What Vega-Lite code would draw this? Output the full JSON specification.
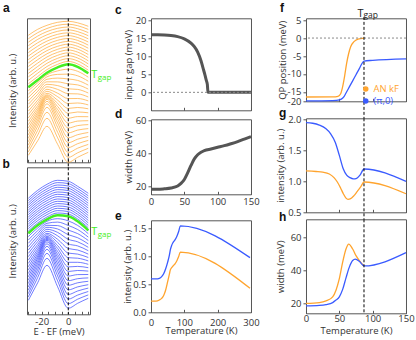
{
"$schema":"https://vega.github.io/schema/vega-lite/v6.json",
"padding":{"left":2,"top":1.3,"right":0,"bottom":0},
"config":{
 "font":"Open Sans",
 "view":{"stroke":"#555","strokeWidth":1},
 "axis":{"grid":false,"domain":false,"labelFontSize":9.5,"titleFontSize":9.5,"titleFontWeight":"normal","labelColor":"#333","titleColor":"#333","tickColor":"#555","tickSize":3,"labelPadding":2,"titlePadding":2,"labelFont":"Open Sans","titleFont":"Open Sans","labelFlush":false,"labelOverlap":false},
 "title":{"anchor":"start","frame":"group","fontSize":12,"fontWeight":"bold","font":"Liberation Sans","color":"#111","baseline":"alphabetic"},
 "line":{"interpolate":"monotone"}
},
"datasets":{
"fermi":[{"e":0}],
"tg":[{"T":87}],
"zero":[{"v":0}],
"sa":[
{"k":0,"e":-30,"v":7},{"k":0,"e":-23,"v":21.5},{"k":0,"e":-16,"v":36},{"k":0,"e":-8,"v":18},{"k":0,"e":0,"v":0},{"k":0,"e":7,"v":5},{"k":0,"e":15,"v":10},
{"k":1,"e":-30,"v":10.4},{"k":1,"e":-23,"v":27.2},{"k":1,"e":-16,"v":44},{"k":1,"e":-8,"v":24.5},{"k":1,"e":0,"v":4.9},{"k":1,"e":7,"v":9.5},{"k":1,"e":15,"v":14},
{"k":2,"e":-30,"v":13.8},{"k":2,"e":-23,"v":31.9},{"k":2,"e":-16,"v":50},{"k":2,"e":-8,"v":30},{"k":2,"e":0,"v":9.8},{"k":2,"e":7,"v":14.1},{"k":2,"e":15,"v":17.9},
{"k":3,"e":-30,"v":17.2},{"k":3,"e":-23,"v":36.1},{"k":3,"e":-16,"v":55},{"k":3,"e":-8,"v":35},{"k":3,"e":0,"v":14.7},{"k":3,"e":7,"v":18.6},{"k":3,"e":15,"v":21.9},
{"k":4,"e":-30,"v":20.6},{"k":4,"e":-23,"v":39.6},{"k":4,"e":-16,"v":58.5},{"k":4,"e":-8,"v":39.3},{"k":4,"e":0,"v":19.6},{"k":4,"e":7,"v":23.1},{"k":4,"e":15,"v":25.8},
{"k":5,"e":-30,"v":24},{"k":5,"e":-23,"v":42.5},{"k":5,"e":-16,"v":61},{"k":5,"e":-8,"v":43.1},{"k":5,"e":0,"v":24.5},{"k":5,"e":7,"v":27.6},{"k":5,"e":15,"v":29.8},
{"k":6,"e":-30,"v":27.4},{"k":6,"e":-23,"v":45.2},{"k":6,"e":-16,"v":63},{"k":6,"e":-8,"v":46.6},{"k":6,"e":0,"v":29.4},{"k":6,"e":7,"v":32.2},{"k":6,"e":15,"v":33.7},
{"k":7,"e":-30,"v":30.8},{"k":7,"e":-23,"v":47.7},{"k":7,"e":-16,"v":64.5},{"k":7,"e":-8,"v":49.8},{"k":7,"e":0,"v":34.3},{"k":7,"e":7,"v":36.7},{"k":7,"e":15,"v":37.7},
{"k":8,"e":-30,"v":34.2},{"k":8,"e":-23,"v":49.9},{"k":8,"e":-16,"v":65.5},{"k":8,"e":-8,"v":52.8},{"k":8,"e":0,"v":39.2},{"k":8,"e":7,"v":41.2},{"k":8,"e":15,"v":41.6},
{"k":9,"e":-30,"v":37.6},{"k":9,"e":-23,"v":52.1},{"k":9,"e":-16,"v":66.5},{"k":9,"e":-8,"v":55.8},{"k":9,"e":0,"v":44.1},{"k":9,"e":7,"v":45.7},{"k":9,"e":15,"v":45.6},
{"k":10,"e":-30,"v":41},{"k":10,"e":-23,"v":54.3},{"k":10,"e":-16,"v":67.5},{"k":10,"e":-8,"v":58.9},{"k":10,"e":0,"v":49},{"k":10,"e":7,"v":50.3},{"k":10,"e":15,"v":49.5},
{"k":11,"e":-30,"v":44.4},{"k":11,"e":-23,"v":56.7},{"k":11,"e":-16,"v":69},{"k":11,"e":-8,"v":62.1},{"k":11,"e":0,"v":53.9},{"k":11,"e":7,"v":54.8},{"k":11,"e":15,"v":53.5},
{"k":12,"e":-30,"v":47.8},{"k":12,"e":-23,"v":59.4},{"k":12,"e":-16,"v":71},{"k":12,"e":-8,"v":65.6},{"k":12,"e":0,"v":58.8},{"k":12,"e":7,"v":59.3},{"k":12,"e":15,"v":57.4},
{"k":13,"e":-30,"v":51.2},{"k":13,"e":-23,"v":62.1},{"k":13,"e":-16,"v":73},{"k":13,"e":-8,"v":69.1},{"k":13,"e":0,"v":63.7},{"k":13,"e":7,"v":63.8},{"k":13,"e":15,"v":61.4},
{"k":14,"e":-30,"v":54.6},{"k":14,"e":-23,"v":65.1},{"k":14,"e":-16,"v":75.5},{"k":14,"e":-8,"v":72.9},{"k":14,"e":0,"v":68.6},{"k":14,"e":7,"v":68.4},{"k":14,"e":15,"v":65.3},
{"k":15,"e":-30,"v":58},{"k":15,"e":-23,"v":68},{"k":15,"e":-16,"v":78},{"k":15,"e":-8,"v":76.7},{"k":15,"e":0,"v":73.5},{"k":15,"e":7,"v":72.9},{"k":15,"e":15,"v":69.3},
{"k":16,"e":-30,"v":61.4},{"k":16,"e":-23,"v":71},{"k":16,"e":-16,"v":80.5},{"k":16,"e":-8,"v":80.4},{"k":16,"e":0,"v":78.4},{"k":16,"e":7,"v":77.4},{"k":16,"e":15,"v":73.2},
{"k":17,"e":-30,"v":64.8},{"k":17,"e":-23,"v":73.9},{"k":17,"e":-16,"v":83},{"k":17,"e":-8,"v":84.2},{"k":17,"e":0,"v":83.3},{"k":17,"e":7,"v":81.9},{"k":17,"e":15,"v":77.2},
{"k":18,"e":-30,"v":68.2},{"k":18,"e":-23,"v":76.9},{"k":18,"e":-16,"v":85.5},{"k":18,"e":-8,"v":87.9},{"k":18,"e":0,"v":88.2},{"k":18,"e":7,"v":86.5},{"k":18,"e":15,"v":81.1},
{"k":19,"e":-30,"v":71.6},{"k":19,"e":-23,"v":79.6},{"k":19,"e":-16,"v":87.5},{"k":19,"e":-8,"v":91.4},{"k":19,"e":0,"v":93.1},{"k":19,"e":7,"v":91},{"k":19,"e":15,"v":85.1},
{"k":20,"e":-30,"v":75},{"k":20,"e":-23,"v":82.3},{"k":20,"e":-16,"v":89.5},{"k":20,"e":-8,"v":95},{"k":20,"e":0,"v":98},{"k":20,"e":7,"v":95.5},{"k":20,"e":15,"v":89},
{"k":21,"e":-30,"v":78.5},{"k":21,"e":-23,"v":85.7},{"k":21,"e":-16,"v":92.7},{"k":21,"e":-8,"v":98},{"k":21,"e":0,"v":100.9},{"k":21,"e":7,"v":98.4},{"k":21,"e":15,"v":92.1},
{"k":22,"e":-30,"v":81.9},{"k":22,"e":-23,"v":89.1},{"k":22,"e":-16,"v":95.8},{"k":22,"e":-8,"v":101},{"k":22,"e":0,"v":103.7},{"k":22,"e":7,"v":101.4},{"k":22,"e":15,"v":95.3},
{"k":23,"e":-30,"v":85.4},{"k":23,"e":-23,"v":92.4},{"k":23,"e":-16,"v":99},{"k":23,"e":-8,"v":104},{"k":23,"e":0,"v":106.6},{"k":23,"e":7,"v":104.3},{"k":23,"e":15,"v":98.4},
{"k":24,"e":-30,"v":88.9},{"k":24,"e":-23,"v":95.8},{"k":24,"e":-16,"v":102.2},{"k":24,"e":-8,"v":107},{"k":24,"e":0,"v":109.5},{"k":24,"e":7,"v":107.2},{"k":24,"e":15,"v":101.5},
{"k":25,"e":-30,"v":92.3},{"k":25,"e":-23,"v":99.2},{"k":25,"e":-16,"v":105.3},{"k":25,"e":-8,"v":110},{"k":25,"e":0,"v":112.3},{"k":25,"e":7,"v":110.2},{"k":25,"e":15,"v":104.7},
{"k":26,"e":-30,"v":95.8},{"k":26,"e":-23,"v":102.6},{"k":26,"e":-16,"v":108.5},{"k":26,"e":-8,"v":113},{"k":26,"e":0,"v":115.2},{"k":26,"e":7,"v":113.1},{"k":26,"e":15,"v":107.8},
{"k":27,"e":-30,"v":99.3},{"k":27,"e":-23,"v":106},{"k":27,"e":-16,"v":111.7},{"k":27,"e":-8,"v":116},{"k":27,"e":0,"v":118.1},{"k":27,"e":7,"v":116},{"k":27,"e":15,"v":110.9},
{"k":28,"e":-30,"v":102.7},{"k":28,"e":-23,"v":109.3},{"k":28,"e":-16,"v":114.8},{"k":28,"e":-8,"v":119},{"k":28,"e":0,"v":120.9},{"k":28,"e":7,"v":119},{"k":28,"e":15,"v":114.1},
{"k":29,"e":-30,"v":106.2},{"k":29,"e":-23,"v":112.7},{"k":29,"e":-16,"v":118},{"k":29,"e":-8,"v":122},{"k":29,"e":0,"v":123.8},{"k":29,"e":7,"v":121.9},{"k":29,"e":15,"v":117.2},
{"k":30,"e":-30,"v":109.7},{"k":30,"e":-23,"v":116.1},{"k":30,"e":-16,"v":121.2},{"k":30,"e":-8,"v":125},{"k":30,"e":0,"v":126.7},{"k":30,"e":7,"v":124.8},{"k":30,"e":15,"v":120.3},
{"k":31,"e":-30,"v":113.1},{"k":31,"e":-23,"v":119.5},{"k":31,"e":-16,"v":124.3},{"k":31,"e":-8,"v":128},{"k":31,"e":0,"v":129.5},{"k":31,"e":7,"v":127.8},{"k":31,"e":15,"v":123.5},
{"k":32,"e":-30,"v":116.6},{"k":32,"e":-23,"v":122.9},{"k":32,"e":-16,"v":127.5},{"k":32,"e":-8,"v":131},{"k":32,"e":0,"v":132.4},{"k":32,"e":7,"v":130.7},{"k":32,"e":15,"v":126.6},
{"k":33,"e":-30,"v":120.1},{"k":33,"e":-23,"v":126.2},{"k":33,"e":-16,"v":130.7},{"k":33,"e":-8,"v":134},{"k":33,"e":0,"v":135.3},{"k":33,"e":7,"v":133.6},{"k":33,"e":15,"v":129.7},
{"k":34,"e":-30,"v":123.5},{"k":34,"e":-23,"v":129.6},{"k":34,"e":-16,"v":133.8},{"k":34,"e":-8,"v":137},{"k":34,"e":0,"v":138.1},{"k":34,"e":7,"v":136.6},{"k":34,"e":15,"v":132.9},
{"k":35,"e":-30,"v":127},{"k":35,"e":-23,"v":133},{"k":35,"e":-16,"v":137},{"k":35,"e":-8,"v":140},{"k":35,"e":0,"v":141},{"k":35,"e":7,"v":139.5},{"k":35,"e":15,"v":136}
],
"sb":[
{"k":0,"e":-30,"v":14},{"k":0,"e":-23,"v":31.5},{"k":0,"e":-16,"v":49},{"k":0,"e":-8,"v":27.5},{"k":0,"e":0,"v":6},{"k":0,"e":7,"v":11},{"k":0,"e":15,"v":16},
{"k":1,"e":-30,"v":17.4},{"k":1,"e":-23,"v":36.7},{"k":1,"e":-16,"v":56},{"k":1,"e":-8,"v":33.4},{"k":1,"e":0,"v":10.6},{"k":1,"e":7,"v":15.1},{"k":1,"e":15,"v":19.4},
{"k":2,"e":-30,"v":20.7},{"k":2,"e":-23,"v":41},{"k":2,"e":-16,"v":61},{"k":2,"e":-8,"v":38.4},{"k":2,"e":0,"v":15.2},{"k":2,"e":7,"v":19.2},{"k":2,"e":15,"v":22.8},
{"k":3,"e":-30,"v":24.1},{"k":3,"e":-23,"v":44.7},{"k":3,"e":-16,"v":65},{"k":3,"e":-8,"v":42.8},{"k":3,"e":0,"v":19.8},{"k":3,"e":7,"v":23.3},{"k":3,"e":15,"v":26.2},
{"k":4,"e":-30,"v":27.4},{"k":4,"e":-23,"v":47.9},{"k":4,"e":-16,"v":68},{"k":4,"e":-8,"v":46.7},{"k":4,"e":0,"v":24.4},{"k":4,"e":7,"v":27.4},{"k":4,"e":15,"v":29.6},
{"k":5,"e":-30,"v":30.8},{"k":5,"e":-23,"v":50.9},{"k":5,"e":-16,"v":70.5},{"k":5,"e":-8,"v":50.4},{"k":5,"e":0,"v":29},{"k":5,"e":7,"v":31.5},{"k":5,"e":15,"v":33},
{"k":6,"e":-30,"v":34.1},{"k":6,"e":-23,"v":53.6},{"k":6,"e":-16,"v":72.5},{"k":6,"e":-8,"v":53.8},{"k":6,"e":0,"v":33.6},{"k":6,"e":7,"v":35.6},{"k":6,"e":15,"v":36.4},
{"k":7,"e":-30,"v":37.5},{"k":7,"e":-23,"v":56.1},{"k":7,"e":-16,"v":74},{"k":7,"e":-8,"v":57},{"k":7,"e":0,"v":38.2},{"k":7,"e":7,"v":39.7},{"k":7,"e":15,"v":39.8},
{"k":8,"e":-30,"v":40.8},{"k":8,"e":-23,"v":58.3},{"k":8,"e":-16,"v":75},{"k":8,"e":-8,"v":59.9},{"k":8,"e":0,"v":42.8},{"k":8,"e":7,"v":43.8},{"k":8,"e":15,"v":43.2},
{"k":9,"e":-30,"v":44.2},{"k":9,"e":-23,"v":60.5},{"k":9,"e":-16,"v":76},{"k":9,"e":-8,"v":62.8},{"k":9,"e":0,"v":47.4},{"k":9,"e":7,"v":47.9},{"k":9,"e":15,"v":46.6},
{"k":10,"e":-30,"v":47.5},{"k":10,"e":-23,"v":62.8},{"k":10,"e":-16,"v":77},{"k":10,"e":-8,"v":65.8},{"k":10,"e":0,"v":52},{"k":10,"e":7,"v":52},{"k":10,"e":15,"v":50},
{"k":11,"e":-30,"v":50.9},{"k":11,"e":-23,"v":65},{"k":11,"e":-16,"v":78},{"k":11,"e":-8,"v":68.7},{"k":11,"e":0,"v":56.6},{"k":11,"e":7,"v":56.1},{"k":11,"e":15,"v":53.4},
{"k":12,"e":-30,"v":54.2},{"k":12,"e":-23,"v":67.5},{"k":12,"e":-16,"v":79.5},{"k":12,"e":-8,"v":71.9},{"k":12,"e":0,"v":61.2},{"k":12,"e":7,"v":60.2},{"k":12,"e":15,"v":56.8},
{"k":13,"e":-30,"v":57.6},{"k":13,"e":-23,"v":69.9},{"k":13,"e":-16,"v":81},{"k":13,"e":-8,"v":75},{"k":13,"e":0,"v":65.8},{"k":13,"e":7,"v":64.3},{"k":13,"e":15,"v":60.2},
{"k":14,"e":-30,"v":60.9},{"k":14,"e":-23,"v":72.7},{"k":14,"e":-16,"v":83},{"k":14,"e":-8,"v":78.5},{"k":14,"e":0,"v":70.4},{"k":14,"e":7,"v":68.4},{"k":14,"e":15,"v":63.6},
{"k":15,"e":-30,"v":64.3},{"k":15,"e":-23,"v":75.4},{"k":15,"e":-16,"v":85},{"k":15,"e":-8,"v":81.9},{"k":15,"e":0,"v":75},{"k":15,"e":7,"v":72.5},{"k":15,"e":15,"v":67},
{"k":16,"e":-30,"v":67.6},{"k":16,"e":-23,"v":78.1},{"k":16,"e":-16,"v":87},{"k":16,"e":-8,"v":85.3},{"k":16,"e":0,"v":79.6},{"k":16,"e":7,"v":76.6},{"k":16,"e":15,"v":70.4},
{"k":17,"e":-30,"v":71},{"k":17,"e":-23,"v":80.8},{"k":17,"e":-16,"v":89},{"k":17,"e":-8,"v":88.7},{"k":17,"e":0,"v":84.2},{"k":17,"e":7,"v":80.7},{"k":17,"e":15,"v":73.8},
{"k":18,"e":-30,"v":74.3},{"k":18,"e":-23,"v":83.6},{"k":18,"e":-16,"v":91},{"k":18,"e":-8,"v":92.2},{"k":18,"e":0,"v":88.8},{"k":18,"e":7,"v":84.8},{"k":18,"e":15,"v":77.2},
{"k":19,"e":-30,"v":77.7},{"k":19,"e":-23,"v":86.3},{"k":19,"e":-16,"v":93},{"k":19,"e":-8,"v":95.6},{"k":19,"e":0,"v":93.4},{"k":19,"e":7,"v":88.9},{"k":19,"e":15,"v":80.6},
{"k":20,"e":-30,"v":81},{"k":20,"e":-23,"v":89},{"k":20,"e":-16,"v":95},{"k":20,"e":-8,"v":99},{"k":20,"e":0,"v":98},{"k":20,"e":7,"v":93},{"k":20,"e":15,"v":84},
{"k":21,"e":-30,"v":83.3},{"k":21,"e":-23,"v":91.3},{"k":21,"e":-16,"v":97.3},{"k":21,"e":-8,"v":101.3},{"k":21,"e":0,"v":100.3},{"k":21,"e":7,"v":95.3},{"k":21,"e":15,"v":86.5},
{"k":22,"e":-30,"v":85.7},{"k":22,"e":-23,"v":93.7},{"k":22,"e":-16,"v":99.7},{"k":22,"e":-8,"v":103.7},{"k":22,"e":0,"v":102.7},{"k":22,"e":7,"v":97.7},{"k":22,"e":15,"v":88.9},
{"k":23,"e":-30,"v":88},{"k":23,"e":-23,"v":96},{"k":23,"e":-16,"v":102},{"k":23,"e":-8,"v":106},{"k":23,"e":0,"v":105},{"k":23,"e":7,"v":100},{"k":23,"e":15,"v":91.4},
{"k":24,"e":-30,"v":90.3},{"k":24,"e":-23,"v":98.3},{"k":24,"e":-16,"v":104.3},{"k":24,"e":-8,"v":108.3},{"k":24,"e":0,"v":107.3},{"k":24,"e":7,"v":102.3},{"k":24,"e":15,"v":93.9},
{"k":25,"e":-30,"v":92.7},{"k":25,"e":-23,"v":100.7},{"k":25,"e":-16,"v":106.7},{"k":25,"e":-8,"v":110.7},{"k":25,"e":0,"v":109.7},{"k":25,"e":7,"v":104.7},{"k":25,"e":15,"v":96.3},
{"k":26,"e":-30,"v":95},{"k":26,"e":-23,"v":103},{"k":26,"e":-16,"v":109},{"k":26,"e":-8,"v":113},{"k":26,"e":0,"v":112},{"k":26,"e":7,"v":107},{"k":26,"e":15,"v":98.8},
{"k":27,"e":-30,"v":97.3},{"k":27,"e":-23,"v":105.3},{"k":27,"e":-16,"v":111.3},{"k":27,"e":-8,"v":115.3},{"k":27,"e":0,"v":114.3},{"k":27,"e":7,"v":109.3},{"k":27,"e":15,"v":101.3},
{"k":28,"e":-30,"v":99.7},{"k":28,"e":-23,"v":107.7},{"k":28,"e":-16,"v":113.7},{"k":28,"e":-8,"v":117.7},{"k":28,"e":0,"v":116.7},{"k":28,"e":7,"v":111.7},{"k":28,"e":15,"v":103.7},
{"k":29,"e":-30,"v":102},{"k":29,"e":-23,"v":110},{"k":29,"e":-16,"v":116},{"k":29,"e":-8,"v":120},{"k":29,"e":0,"v":119},{"k":29,"e":7,"v":114},{"k":29,"e":15,"v":106.2},
{"k":30,"e":-30,"v":104.3},{"k":30,"e":-23,"v":112.3},{"k":30,"e":-16,"v":118.3},{"k":30,"e":-8,"v":122.3},{"k":30,"e":0,"v":121.3},{"k":30,"e":7,"v":116.3},{"k":30,"e":15,"v":108.7},
{"k":31,"e":-30,"v":106.7},{"k":31,"e":-23,"v":114.7},{"k":31,"e":-16,"v":120.7},{"k":31,"e":-8,"v":124.7},{"k":31,"e":0,"v":123.7},{"k":31,"e":7,"v":118.7},{"k":31,"e":15,"v":111.1},
{"k":32,"e":-30,"v":109},{"k":32,"e":-23,"v":117},{"k":32,"e":-16,"v":123},{"k":32,"e":-8,"v":127},{"k":32,"e":0,"v":126},{"k":32,"e":7,"v":121},{"k":32,"e":15,"v":113.6},
{"k":33,"e":-30,"v":111.3},{"k":33,"e":-23,"v":119.3},{"k":33,"e":-16,"v":125.3},{"k":33,"e":-8,"v":129.3},{"k":33,"e":0,"v":128.3},{"k":33,"e":7,"v":123.3},{"k":33,"e":15,"v":116.1},
{"k":34,"e":-30,"v":113.7},{"k":34,"e":-23,"v":121.7},{"k":34,"e":-16,"v":127.7},{"k":34,"e":-8,"v":131.7},{"k":34,"e":0,"v":130.7},{"k":34,"e":7,"v":125.7},{"k":34,"e":15,"v":118.5},
{"k":35,"e":-30,"v":116},{"k":35,"e":-23,"v":124},{"k":35,"e":-16,"v":130},{"k":35,"e":-8,"v":134},{"k":35,"e":0,"v":133},{"k":35,"e":7,"v":128},{"k":35,"e":15,"v":121}
],
"c":[{"T":0,"v":16},{"T":10,"v":16},{"T":20,"v":15.95},{"T":30,"v":15.8},{"T":40,"v":15.5},{"T":50,"v":14.9},{"T":60,"v":13.7},{"T":65,"v":12.7},{"T":70,"v":11.2},{"T":75,"v":8.8},{"T":78,"v":6.8},{"T":81,"v":4.8},{"T":83,"v":3.3},{"T":84.5,"v":2.2},{"T":85.5,"v":0},{"T":150,"v":0}],
"d":[{"T":0,"v":18},{"T":10,"v":18},{"T":20,"v":18.3},{"T":30,"v":18.8},{"T":40,"v":20},{"T":45,"v":21.6},{"T":50,"v":24},{"T":55,"v":28},{"T":60,"v":32.5},{"T":65,"v":36.5},{"T":70,"v":39},{"T":75,"v":40.5},{"T":80,"v":41.5},{"T":90,"v":42.5},{"T":100,"v":43.5},{"T":110,"v":44.5},{"T":120,"v":45.7},{"T":130,"v":47},{"T":140,"v":48.5},{"T":150,"v":50}],
"e":[
{"s":"AN kF","T":0,"v":0.2},{"s":"AN kF","T":15,"v":0.2},{"s":"AN kF","T":25,"v":0.22},{"s":"AN kF","T":32,"v":0.25},{"s":"AN kF","T":38,"v":0.3},{"s":"AN kF","T":44,"v":0.4},{"s":"AN kF","T":50,"v":0.55},{"s":"AN kF","T":55,"v":0.68},{"s":"AN kF","T":58,"v":0.76},{"s":"AN kF","T":62,"v":0.8},{"s":"AN kF","T":66,"v":0.83},{"s":"AN kF","T":72,"v":0.87},{"s":"AN kF","T":78,"v":0.93},{"s":"AN kF","T":83,"v":1},{"s":"AN kF","T":88,"v":1.08},{"s":"AN kF","T":297,"v":0.43},
{"s":"(π,0)","T":0,"v":0.6},{"s":"(π,0)","T":15,"v":0.6},{"s":"(π,0)","T":25,"v":0.61},{"s":"(π,0)","T":32,"v":0.64},{"s":"(π,0)","T":38,"v":0.69},{"s":"(π,0)","T":44,"v":0.78},{"s":"(π,0)","T":50,"v":0.9},{"s":"(π,0)","T":55,"v":1.02},{"s":"(π,0)","T":58,"v":1.12},{"s":"(π,0)","T":62,"v":1.2},{"s":"(π,0)","T":66,"v":1.25},{"s":"(π,0)","T":72,"v":1.3},{"s":"(π,0)","T":78,"v":1.37},{"s":"(π,0)","T":83,"v":1.45},{"s":"(π,0)","T":88,"v":1.55},{"s":"(π,0)","T":297,"v":0.98}
],
"f":[
{"s":"AN kF","T":0,"v":-16.4},{"s":"AN kF","T":40,"v":-16.35},{"s":"AN kF","T":48,"v":-16.2},{"s":"AN kF","T":52,"v":-15.5},{"s":"AN kF","T":55,"v":-13.5},{"s":"AN kF","T":58,"v":-10.5},{"s":"AN kF","T":61,"v":-7},{"s":"AN kF","T":64,"v":-4.3},{"s":"AN kF","T":67,"v":-2.4},{"s":"AN kF","T":72,"v":-1},{"s":"AN kF","T":78,"v":-0.3},{"s":"AN kF","T":87,"v":0},
{"s":"(π,0)","T":0,"v":-17.5},{"s":"(π,0)","T":40,"v":-17.4},{"s":"(π,0)","T":45,"v":-17.35},{"s":"(π,0)","T":50,"v":-17.2},{"s":"(π,0)","T":53,"v":-17},{"s":"(π,0)","T":57,"v":-16.3},{"s":"(π,0)","T":60,"v":-15.3},{"s":"(π,0)","T":65,"v":-13.6},{"s":"(π,0)","T":70,"v":-11.9},{"s":"(π,0)","T":75,"v":-10.2},{"s":"(π,0)","T":80,"v":-8.5},{"s":"(π,0)","T":87,"v":-6.4},{"s":"(π,0)","T":100,"v":-6.2},{"s":"(π,0)","T":150,"v":-5.8}
],
"g":[
{"s":"AN kF","T":0,"v":1.17},{"s":"AN kF","T":15,"v":1.16},{"s":"AN kF","T":25,"v":1.15},{"s":"AN kF","T":35,"v":1.12},{"s":"AN kF","T":42,"v":1.06},{"s":"AN kF","T":47,"v":0.99},{"s":"AN kF","T":52,"v":0.89},{"s":"AN kF","T":56,"v":0.8},{"s":"AN kF","T":60,"v":0.73},{"s":"AN kF","T":63,"v":0.71},{"s":"AN kF","T":67,"v":0.72},{"s":"AN kF","T":72,"v":0.77},{"s":"AN kF","T":77,"v":0.84},{"s":"AN kF","T":82,"v":0.91},{"s":"AN kF","T":87,"v":0.99},{"s":"AN kF","T":150,"v":0.8},
{"s":"(π,0)","T":0,"v":1.95},{"s":"(π,0)","T":10,"v":1.94},{"s":"(π,0)","T":20,"v":1.91},{"s":"(π,0)","T":30,"v":1.85},{"s":"(π,0)","T":37,"v":1.77},{"s":"(π,0)","T":44,"v":1.63},{"s":"(π,0)","T":50,"v":1.42},{"s":"(π,0)","T":56,"v":1.2},{"s":"(π,0)","T":61,"v":1.1},{"s":"(π,0)","T":66,"v":1.06},{"s":"(π,0)","T":71,"v":1.04},{"s":"(π,0)","T":76,"v":1.05},{"s":"(π,0)","T":81,"v":1.1},{"s":"(π,0)","T":87,"v":1.2},{"s":"(π,0)","T":150,"v":1}
],
"h":[
{"s":"AN kF","T":0,"v":20},{"s":"AN kF","T":20,"v":20.5},{"s":"AN kF","T":30,"v":21.5},{"s":"AN kF","T":40,"v":24},{"s":"AN kF","T":45,"v":28},{"s":"AN kF","T":50,"v":35},{"s":"AN kF","T":55,"v":45},{"s":"AN kF","T":60,"v":53},{"s":"AN kF","T":64,"v":56},{"s":"AN kF","T":70,"v":53},{"s":"AN kF","T":75,"v":49},{"s":"AN kF","T":80,"v":46},{"s":"AN kF","T":87,"v":42.7},
{"s":"(π,0)","T":0,"v":18.5},{"s":"(π,0)","T":20,"v":18.8},{"s":"(π,0)","T":30,"v":19.3},{"s":"(π,0)","T":40,"v":20.5},{"s":"(π,0)","T":45,"v":22},{"s":"(π,0)","T":50,"v":24},{"s":"(π,0)","T":55,"v":28.5},{"s":"(π,0)","T":60,"v":35.5},{"s":"(π,0)","T":65,"v":42},{"s":"(π,0)","T":70,"v":46},{"s":"(π,0)","T":74,"v":46.8},{"s":"(π,0)","T":80,"v":45.5},{"s":"(π,0)","T":87,"v":42.7},{"s":"(π,0)","T":150,"v":50.8}
]
},
"hconcat":[
 {"vconcat":[
  {"width":63,"height":144,
   "title":{"text":"a","dx":-24,"offset":2.7},
   "resolve":{"axis":{"x":"independent","y":"independent"}},
   "layer":[
    {"data":{"name":"sa"},"mark":{"type":"line","interpolate":"monotone","strokeWidth":0.7,"color":"#ffa733"},
     "encoding":{
      "x":{"field":"e","type":"quantitative","scale":{"domain":[-31,16.3],"nice":false,"zero":false},"axis":{"values":[-30,-25,-20,-15,-10,-5,0,5,10,15],"labels":false,"title":null,"tickSize":-3}},
      "y":{"field":"v","type":"quantitative","scale":{"domain":[0,144],"nice":false},"axis":{"title":"Intensity (arb. u.)","labels":false,"ticks":false,"titlePadding":10}},
      "detail":{"field":"k","type":"nominal"}}},
    {"data":{"name":"sa"},"transform":[{"filter":"datum.k == 20"}],"mark":{"type":"line","interpolate":"monotone","strokeWidth":2.5,"color":"#44ee22"},
     "encoding":{"x":{"field":"e","type":"quantitative","axis":null},"y":{"field":"v","type":"quantitative","axis":null}}},
    {"data":{"name":"fermi"},"mark":{"type":"rule","strokeDash":[3,2],"color":"#000","strokeWidth":1},"encoding":{"x":{"field":"e","type":"quantitative","axis":null},"y":{"datum":144,"axis":null},"y2":{"datum":-5}}},
    {"data":{"name":"sa"},"transform":[{"filter":"datum.k == 20 && datum.e == 15"}],"mark":{"type":"text","text":"T","color":"#44ee22","align":"left","baseline":"middle","dx":3,"dy":2,"fontSize":11},"encoding":{"x":{"field":"e","type":"quantitative","axis":null},"y":{"field":"v","type":"quantitative","axis":null}}},
    {"data":{"name":"sa"},"transform":[{"filter":"datum.k == 20 && datum.e == 15"}],"mark":{"type":"text","text":"gap","color":"#44ee22","align":"left","baseline":"middle","dx":9.5,"dy":5,"fontSize":8},"encoding":{"x":{"field":"e","type":"quantitative","axis":null},"y":{"field":"v","type":"quantitative","axis":null}}}
   ]},
  {"width":63,"height":147,
   "title":{"text":"b","dx":-24.5,"offset":0,"dy":4.3},
   "resolve":{"axis":{"x":"independent","y":"independent"}},
   "layer":[
    {"data":{"name":"sb"},"mark":{"type":"line","interpolate":"monotone","strokeWidth":0.7,"color":"#3344ff"},
     "encoding":{
      "x":{"field":"e","type":"quantitative","scale":{"domain":[-31,16.3],"nice":false,"zero":false},"axis":{"values":[-30,-25,-20,-15,-10,-5,0,5,10,15],"labelExpr":"datum.value == -20 ? '-20' : datum.value == 0 ? '0' : ''","title":"E - EF (meV)","tickSize":-3,"labelPadding":5.1,"titlePadding":0.5}},
      "y":{"field":"v","type":"quantitative","scale":{"domain":[0,147],"nice":false},"axis":{"title":"Intensity (arb. u.)","labels":false,"ticks":false,"titlePadding":10}},
      "detail":{"field":"k","type":"nominal"}}},
    {"data":{"name":"sb"},"transform":[{"filter":"datum.k == 20"}],"mark":{"type":"line","interpolate":"monotone","strokeWidth":2.5,"color":"#44ee22"},
     "encoding":{"x":{"field":"e","type":"quantitative","axis":null},"y":{"field":"v","type":"quantitative","axis":null}}},
    {"data":{"name":"fermi"},"mark":{"type":"rule","strokeDash":[3,2],"color":"#000","strokeWidth":1},"encoding":{"x":{"field":"e","type":"quantitative","axis":null}}},
    {"data":{"name":"sb"},"transform":[{"filter":"datum.k == 20 && datum.e == 15"}],"mark":{"type":"text","text":"T","color":"#44ee22","align":"left","baseline":"middle","dx":3,"dy":2,"fontSize":11},"encoding":{"x":{"field":"e","type":"quantitative","axis":null},"y":{"field":"v","type":"quantitative","axis":null}}},
    {"data":{"name":"sb"},"transform":[{"filter":"datum.k == 20 && datum.e == 15"}],"mark":{"type":"text","text":"gap","color":"#44ee22","align":"left","baseline":"middle","dx":9.5,"dy":5,"fontSize":8},"encoding":{"x":{"field":"e","type":"quantitative","axis":null},"y":{"field":"v","type":"quantitative","axis":null}}}
   ]}
 ],"spacing":5,"bounds":"flush"},
 {"hconcat":[
  {"vconcat":[
   {"vconcat":[
    {"width":100,"height":92,
     "title":{"text":"c","dx":-36,"offset":0,"dy":1.85},
     "resolve":{"axis":{"x":"independent","y":"independent"}},
     "layer":[
      {"data":{"name":"c"},"mark":{"type":"line","strokeWidth":3,"color":"#555"},
       "encoding":{
        "x":{"field":"T","type":"quantitative","scale":{"domain":[0,150],"nice":false},"axis":{"values":[0,50,100,150],"labels":false,"title":null,"tickSize":-3}},
        "y":{"field":"v","type":"quantitative","scale":{"domain":[-5,20.6],"nice":false,"zero":false},"axis":{"values":[0,5,10,15,20],"title":"input gap (meV)","titlePadding":2}}}},
      {"data":{"name":"zero"},"mark":{"type":"rule","strokeDash":[2,2],"color":"#888"},"encoding":{"y":{"field":"v","type":"quantitative","axis":null}}}
     ]},
    {"width":100,"height":75,
     "title":{"text":"d","dx":-36,"offset":0,"dy":6.2},
     "data":{"name":"d"},
     "mark":{"type":"line","strokeWidth":3,"color":"#555"},
     "encoding":{
      "x":{"field":"T","type":"quantitative","scale":{"domain":[0,150],"nice":false},"axis":{"values":[0,50,100,150],"title":null,"tickSize":-3,"labelPadding":5.7}},
      "y":{"field":"v","type":"quantitative","scale":{"domain":[15,60.5],"nice":false,"zero":false},"axis":{"values":[20,40,60],"title":"width (meV)","titlePadding":2}}}}
   ],"spacing":9,"bounds":"flush"},
   {"width":100,"height":92,
    "title":{"text":"e","dx":-36,"offset":0,"dy":2.3},
    "data":{"name":"e"},
    "mark":{"type":"line","strokeWidth":1.3},
    "encoding":{
     "x":{"field":"T","type":"quantitative","scale":{"domain":[0,300],"nice":false},"axis":{"values":[0,100,200,300],"title":"Temperature (K)","tickSize":-3,"labelPadding":8.2,"titlePadding":-1.5}},
     "y":{"field":"v","type":"quantitative","scale":{"domain":[0,1.65],"nice":false},"axis":{"values":[0,0.5,1,1.5],"format":".1f","title":"intensity (arb. u.)","titlePadding":0}},
     "color":{"field":"s","type":"nominal","scale":{"domain":["AN kF","(π,0)"],"range":["#ffa42e","#3a5bff"]},"legend":null}}}
  ],"spacing":202,"bounds":"flush"},
  {"vconcat":[
   {"width":100,"height":83,
    "title":{"text":"f","dx":-26,"offset":0,"dy":7.5},
    "resolve":{"axis":{"x":"independent","y":"independent"}},
    "layer":[
     {"data":{"name":"f"},"mark":{"type":"line","strokeWidth":1.3},
      "encoding":{
       "x":{"field":"T","type":"quantitative","scale":{"domain":[0,150],"nice":false},"axis":{"values":[0,50,100,150],"labels":false,"title":null,"tickSize":-3}},
       "y":{"field":"v","type":"quantitative","scale":{"domain":[-17.6,5.5],"nice":false,"zero":false},"axis":{"values":[-17.6,-15,-10,-5,0,5],"labelExpr":"datum.value < -17 ? '-20' : replace(datum.label, '\u2212', '-')","title":"QP position (meV)","titlePadding":0}},
       "color":{"field":"s","type":"nominal","scale":{"domain":["AN kF","(π,0)"],"range":["#ffa42e","#3a5bff"]},
        "legend":{"orient":"none","legendX":55,"legendY":66,"title":null,"labelFontSize":9.5,"symbolType":"circle","symbolSize":30,"rowPadding":1,"padding":0,"labelOffset":3,"symbolStrokeWidth":0,
         "encode":{"symbols":{"update":{"fill":{"signal":"datum.value === 'AN kF' ? '#ffa42e' : '#3a5bff'"},"opacity":{"value":1}}},"labels":{"update":{"fill":{"signal":"datum.value === 'AN kF' ? '#ffa42e' : '#3a5bff'"}}}}}}}},
     {"data":{"name":"zero"},"mark":{"type":"rule","strokeDash":[2,2],"color":"#888"},"encoding":{"y":{"field":"v","type":"quantitative","axis":null}}},
     {"data":{"name":"tg"},"mark":{"type":"rule","strokeDash":[3,2],"color":"#000"},"encoding":{"x":{"field":"T","type":"quantitative","axis":null},"y":{"datum":5.9,"axis":null},"y2":{"datum":-22.35}}},
     {"data":{"name":"tg"},"mark":{"type":"text","text":"T","color":"#222","align":"right","baseline":"alphabetic","dx":-0.5,"dy":-43,"fontSize":11},"encoding":{"x":{"field":"T","type":"quantitative","axis":null}}},
     {"data":{"name":"tg"},"mark":{"type":"text","text":"gap","color":"#222","align":"left","baseline":"alphabetic","dx":-0.5,"dy":-41.5,"fontSize":8.5},"encoding":{"x":{"field":"T","type":"quantitative","axis":null}}}
    ]},
   {"vconcat":[
    {"width":100,"height":94,
     "title":{"text":"g","dx":-27,"offset":0,"dy":5.5},
     "resolve":{"axis":{"x":"independent","y":"independent"}},
     "layer":[
      {"data":{"name":"g"},"mark":{"type":"line","strokeWidth":1.3},
       "encoding":{
        "x":{"field":"T","type":"quantitative","scale":{"domain":[0,150],"nice":false},"axis":{"values":[0,50,100,150],"labels":false,"title":null,"tickSize":-3}},
        "y":{"field":"v","type":"quantitative","scale":{"domain":[0.5,2.02],"nice":false,"zero":false},"axis":{"values":[0.5,1,1.5,2],"format":".1f","title":"intensity (arb. u.)","titlePadding":2}},
        "color":{"field":"s","type":"nominal","scale":{"domain":["AN kF","(π,0)"],"range":["#ffa42e","#3a5bff"]},"legend":null}}},
      {"data":{"name":"tg"},"mark":{"type":"rule","strokeDash":[3,2],"color":"#000"},"encoding":{"x":{"field":"T","type":"quantitative","axis":null},"y":{"datum":2.02,"axis":null},"y2":{"datum":0.385}}}
     ]},
    {"width":100,"height":94,
     "title":{"text":"h","dx":-27,"offset":0,"dy":5.3},
     "resolve":{"axis":{"x":"independent","y":"independent"}},
     "layer":[
      {"data":{"name":"h"},"mark":{"type":"line","strokeWidth":1.3},
       "encoding":{
        "x":{"field":"T","type":"quantitative","scale":{"domain":[0,150],"nice":false},"axis":{"values":[0,50,100,150],"title":"Temperature (K)","tickSize":-3,"labelPadding":3.4,"titlePadding":2.5}},
        "y":{"field":"v","type":"quantitative","scale":{"domain":[14,71],"nice":false,"zero":false},"axis":{"values":[20,40,60],"title":"width (meV)","titlePadding":4.4}},
        "color":{"field":"s","type":"nominal","scale":{"domain":["AN kF","(π,0)"],"range":["#ffa42e","#3a5bff"]},"legend":null}}},
      {"data":{"name":"tg"},"mark":{"type":"rule","strokeDash":[3,2],"color":"#000"},"encoding":{"x":{"field":"T","type":"quantitative","axis":null}}}
     ]}
   ],"spacing":7,"bounds":"flush"}
  ],"spacing":17,"bounds":"flush","resolve":{"scale":{"color":"independent"}}}
 ],"spacing":155,"bounds":"flush","resolve":{"scale":{"color":"independent"}}}
],
"spacing":124,
"bounds":"flush",
"resolve":{"scale":{"color":"independent"}}
}
